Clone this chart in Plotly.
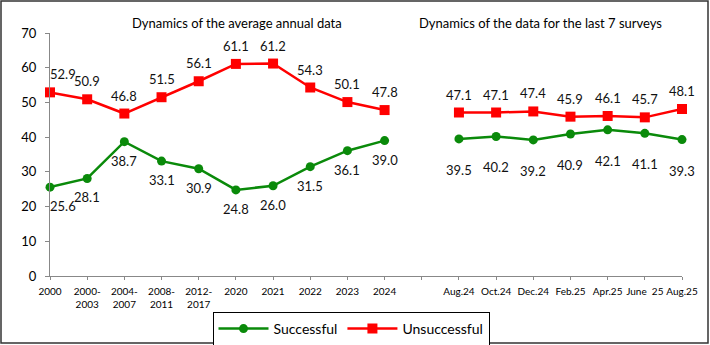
import plotly.graph_objects as go

categories = ["2000", "2000-<br>2003", "2004-<br>2007", "2008-<br>2011", "2012-<br>2017",
              "2020", "2021", "2022", "2023", "2024", "",
              "Aug.24", "Oct.24", "Dec.24", "Feb.25", "Apr.25", "June  25", "Aug.25"]
successful = [25.6, 28.1, 38.7, 33.1, 30.9, 24.8, 26.0, 31.5, 36.1, 39.0, None,
              39.5, 40.2, 39.2, 40.9, 42.1, 41.1, 39.3]
unsuccessful = [52.9, 50.9, 46.8, 51.5, 56.1, 61.1, 61.2, 54.3, 50.1, 47.8, None,
                47.1, 47.1, 47.4, 45.9, 46.1, 45.7, 48.1]
titles = ["Dynamics of the average annual data", "Dynamics of the data for the last 7 surveys"]

x = list(range(len(categories)))
FONT = "Lato, 'Open Sans', sans-serif"
W, H = 710, 345
L, R, T, B = 50, 28, 33, 69
pw, ph = W - L - R, H - T - B

fig = go.Figure()
fig.add_trace(go.Scatter(
    x=x, y=successful, name="Successful", mode="lines+markers",
    line=dict(color="#0a8a0a", width=2.5),
    marker=dict(symbol="circle", size=9, color="#0a8a0a"),
    cliponaxis=False, connectgaps=False))
fig.add_trace(go.Scatter(
    x=x, y=unsuccessful, name="Unsuccessful", mode="lines+markers",
    line=dict(color="#ff0000", width=2.5),
    marker=dict(symbol="square", size=10, color="#ff0000"),
    cliponaxis=False, connectgaps=False))

# data labels (positioned in data coordinates, offset in pixels like the original)
for i, (s, u) in enumerate(zip(successful, unsuccessful)):
    dx = 13 if i == 0 else 0
    if s is not None:
        fig.add_annotation(x=x[i], y=s, text=f"{s:.1f}", showarrow=False,
                           xshift=dx, yshift=(-19 if i < 10 else -31),
                           font=dict(size=13, family=FONT, color="#111111"))
    if u is not None:
        fig.add_annotation(x=x[i], y=u, text=f"{u:.1f}", showarrow=False,
                           xshift=dx, yshift=18,
                           font=dict(size=13, family=FONT, color="#111111"))

def px_x(p):
    return (p - L) / pw

def px_y(p):
    return (H - B - p) / ph

fig.add_annotation(text=titles[0], x=px_x(237), y=px_y(23), xref="paper", yref="paper",
                   xanchor="center", yanchor="middle",
                   showarrow=False, font=dict(size=13, family=FONT, color="black"))
fig.add_annotation(text=titles[1], x=px_x(540), y=px_y(23), xref="paper", yref="paper",
                   xanchor="center", yanchor="middle",
                   showarrow=False, font=dict(size=13, family=FONT, color="black"))

fig.add_shape(type="rect", xref="paper", yref="paper",
              x0=px_x(1), x1=px_x(708), y0=px_y(343), y1=px_y(1),
              line=dict(color="#333333", width=1.5))

fig.update_layout(
    width=W, height=H, margin=dict(l=L, r=R, t=T, b=B, autoexpand=False),
    plot_bgcolor="white", paper_bgcolor="white",
    font=dict(family=FONT, size=12, color="black"),
    showlegend=True,
    legend=dict(orientation="h", x=px_x(351), xanchor="center", y=px_y(312), yanchor="top",
                bordercolor="black", borderwidth=1, font=dict(size=14, family=FONT),
                itemwidth=50),
    xaxis=dict(range=[0, len(categories) - 1], tickvals=x, ticktext=categories,
               automargin=False, ticklabelstandoff=3,
               showgrid=False, zeroline=False, showline=True, linecolor="#888888", linewidth=1,
               ticks="outside", ticklen=3, tickcolor="#888888", tickangle=0,
               tickfont=dict(size=10, family=FONT)),
    yaxis=dict(range=[0, 70], dtick=10, showgrid=False, zeroline=False, showline=True,
               automargin=False, ticklabelstandoff=6,
               linecolor="#888888", linewidth=1, ticks="outside", ticklen=4, tickcolor="#888888",
               tickfont=dict(size=13, family=FONT)),
)

fig.write_html("out.html", config={"displayModeBar": False},
               post_script="document.body.style.margin='0';")
